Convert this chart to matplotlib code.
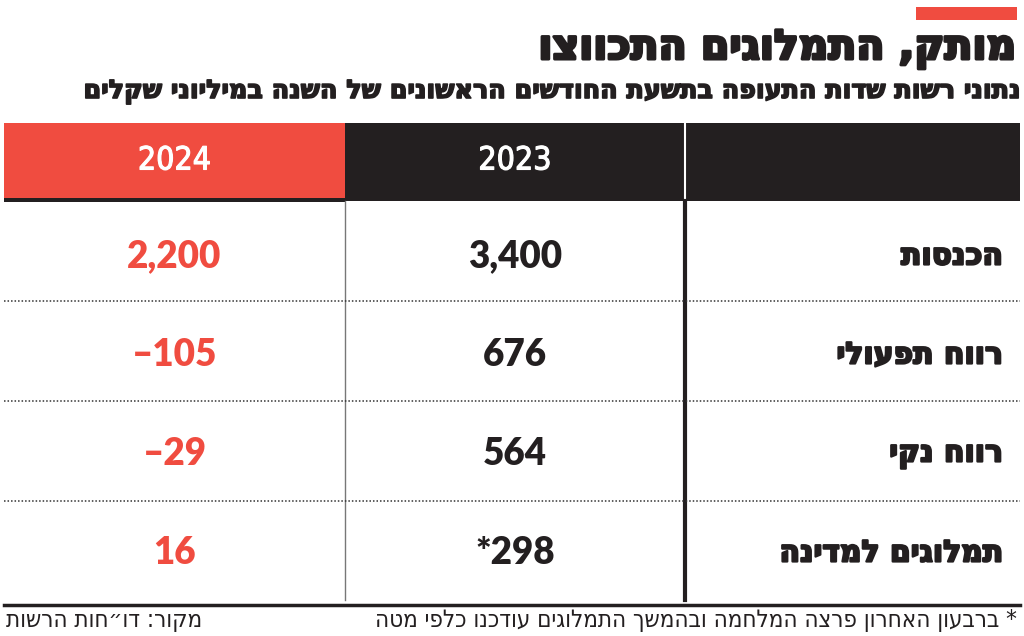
import matplotlib
matplotlib.use("Agg")
import matplotlib.pyplot as plt
from matplotlib.patches import Rectangle
import matplotlib.patheffects as pe

# ---------------- data ----------------
title = "מותק, התמלוגים התכווצו"
subtitle = "נתוני רשות שדות התעופה בתשעת החודשים הראשונים של השנה במיליוני שקלים"
years = ["2024", "2023"]
row_labels = ["הכנסות", "רווח תפעולי", "רווח נקי", "תמלוגים למדינה"]
values_2023 = [3400, 676, 564, 298]
values_2024 = [2200, -105, -29, 16]
footnote_flags_2023 = [False, False, False, True]
footnote = "* ברבעון האחרון פרצה המלחמה ובהמשך התמלוגים עודכנו כלפי מטה"
source = "מקור: דו\u05f4חות הרשות"

RED = "#F04C40"
BLACK = "#231F20"


def vis(s):
    """Hebrew logical -> visual order (simple reversal, no digits mixed)."""
    return s[::-1]


def fmt(v, star=False):
    s = f"{abs(v):,}"
    if v < 0:
        s = "\u2013" + s
    if star:
        s = "*" + s
    return s


fig = plt.figure(figsize=(10.24, 6.36), dpi=100)
ax = fig.add_axes([0, 0, 1, 1])
ax.set_xlim(0, 1024)
ax.set_ylim(636, 0)
ax.axis("off")

HEB = ["DejaVu Sans"]
NUM = ["Lato", "DejaVu Sans"]
COND = ["Liberation Sans Narrow", "DejaVu Sans"]


def thick(w, c=BLACK):
    return [pe.withStroke(linewidth=w, foreground=c)]


# top red bar
ax.add_patch(Rectangle((916, 7), 101, 13, color=RED, lw=0))

# title & subtitle
ax.text(1017, 49, vis(title), ha="right", va="center", fontsize=29.5,
        fontweight="bold", family=HEB, color=BLACK, path_effects=thick(2.2))
ax.text(1017, 92, vis(subtitle), ha="right", va="center", fontsize=18.3,
        fontweight="bold", family=HEB, color=BLACK, path_effects=thick(1.2))

# header band
x_left, x_mid, x_div, x_right = 4, 345, 685, 1020
top, hbot = 123, 201
ax.add_patch(Rectangle((x_left, top), x_mid - x_left, hbot - top, color=RED, lw=0))
ax.add_patch(Rectangle((x_mid, top), x_right - x_mid, hbot - top, color=BLACK, lw=0))
ax.add_patch(Rectangle((x_left, hbot - 3), x_mid - x_left, 4, color=BLACK, lw=0))
ax.plot([x_div, x_div], [top, hbot - 2], color="white", lw=1.5)

col_centers = [(x_left + x_mid) / 2, (x_mid + x_div) / 2]
for xc, yr in zip(col_centers, years):
    ax.text(xc, 161, yr, ha="center", va="center", fontsize=23, color="white",
            family=COND, fontstretch="condensed", fontweight="normal",
            path_effects=thick(0.8, "white"))

# vertical grid lines
bottom = 600
ax.plot([x_mid, x_mid], [hbot, bottom], color="#777777", lw=1)
ax.plot([x_div, x_div], [hbot, bottom], color=BLACK, lw=3)

# rows
for i, (lab, v23, v24, star) in enumerate(zip(row_labels, values_2023, values_2024,
                                              footnote_flags_2023)):
    yc = 256 + i * 99
    ax.text(1003, yc, vis(lab), ha="right", va="center", fontsize=21.5,
            fontweight="bold", family=HEB, color=BLACK, path_effects=thick(1.6))
    ax.text(col_centers[1], yc, fmt(v23, star), ha="center", va="center",
            fontsize=26.5, fontweight="heavy", family=NUM, color=BLACK)
    ax.text(col_centers[0], yc, fmt(v24), ha="center", va="center",
            fontsize=26.5, fontweight="heavy", family=NUM, color=RED)
    if i < len(row_labels) - 1:
        ys = 301 + i * 100
        ax.plot([x_left, x_right], [ys, ys], color="#333333", lw=1.1,
                linestyle=(0, (1, 1.3)))

# bottom line
ax.plot([x_left, x_right], [605, 605], color=BLACK, lw=2.5)

# footer
ax.text(1017, 620, vis(footnote), ha="right", va="center", fontsize=17.3,
        family=HEB, color=BLACK, fontstretch="condensed")
ax.text(6, 620, vis(source), ha="left", va="center", fontsize=17.3,
        family=HEB, color=BLACK, fontstretch="condensed")

fig.savefig("out.png", dpi=100)
